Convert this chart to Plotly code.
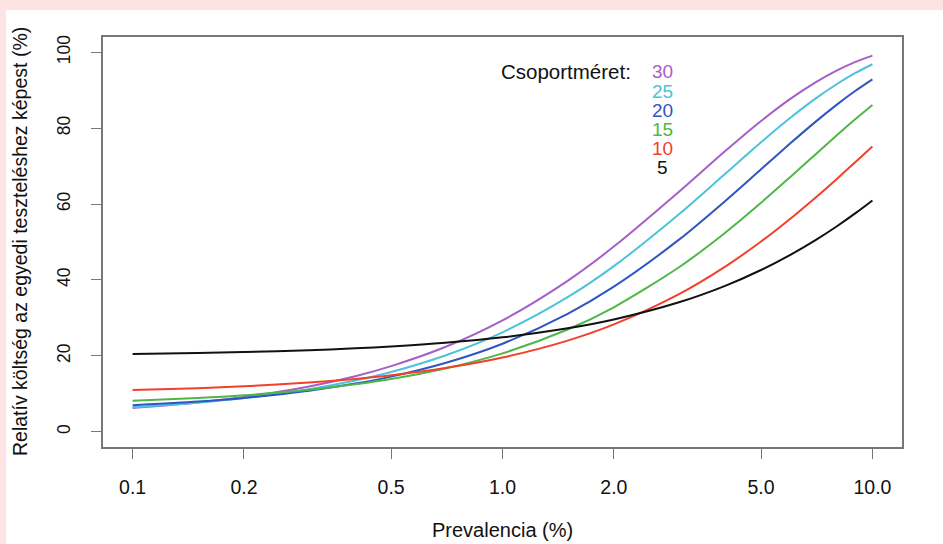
import plotly.graph_objects as go

# Prevalence (%) values at which curves were read
prevalence = [0.1, 0.15, 0.2, 0.3, 0.4, 0.5, 0.7, 1.0, 1.5, 2.0, 3.0, 4.0, 5.0, 6.0, 7.0, 8.0, 9.0, 10.0]

# Relative cost compared to individual testing (%) per group size
cost_5 = [20.5, 20.75, 21.0, 21.49, 21.98, 22.48, 23.45, 24.9, 27.28, 29.61, 34.13, 38.46, 42.62, 46.61, 50.43, 54.09, 57.6, 60.95]
cost_10 = [11.0, 11.49, 11.98, 12.96, 13.93, 14.89, 16.78, 19.56, 24.03, 28.29, 36.26, 43.52, 50.13, 56.14, 61.6, 66.56, 71.06, 75.13]
cost_15 = [8.16, 8.89, 9.62, 11.07, 12.5, 13.91, 16.68, 20.66, 26.94, 32.81, 43.34, 52.46, 60.34, 67.14, 73.0, 78.04, 82.37, 86.08]
cost_20 = [6.98, 7.96, 8.92, 10.83, 12.7, 14.54, 18.12, 23.21, 31.09, 38.24, 50.62, 60.8, 69.15, 75.99, 81.58, 86.13, 89.83, 92.84]
cost_25 = [6.47, 7.68, 8.88, 11.24, 13.53, 15.77, 20.11, 26.22, 35.47, 43.65, 57.3, 67.96, 76.26, 82.71, 87.71, 91.56, 94.54, 96.82]
cost_30 = [6.29, 7.73, 9.16, 11.95, 14.64, 17.3, 22.33, 29.36, 39.78, 48.79, 63.23, 73.95, 81.87, 87.7, 91.98, 95.13, 97.43, 99.09]

group_sizes = ["30", "25", "20", "15", "10", "5"]
series = [cost_30, cost_25, cost_20, cost_15, cost_10, cost_5]
colors = ["#a55fc6", "#4cc2dc", "#2f55c2", "#4db846", "#f2402b", "#111111"]

x_tickvals = [0.1, 0.2, 0.5, 1, 2, 5, 10]
x_ticktext = ["0.1", "0.2", "0.5", "1.0", "2.0", "5.0", "10.0"]
y_tickvals = [0, 20, 40, 60, 80, 100]

FONT = "Liberation Sans, Arial, sans-serif"

fig = go.Figure()
for name, vals, col in zip(group_sizes, series, colors):
    fig.add_trace(go.Scatter(x=prevalence, y=vals, mode="lines", name=name,
                             line=dict(color=col, width=2, shape="spline", smoothing=0.8),
                             showlegend=False))

# plot-area geometry in pixels
L, R, T, B = 103, 902, 37, 447
W, H = 943, 544
pw, ph = R - L, B - T
def px(x):
    return (x - L) / pw
def py(y):
    return (B - y) / ph

annotations = [
    dict(text="Csoportméret:", x=px(633), y=py(72), xanchor="right", yanchor="middle",
         showarrow=False, font=dict(size=20.5, color="#111111", family=FONT)),
    dict(text="Prevalencia (%)", x=0.5, y=py(530), xanchor="center", yanchor="middle",
         showarrow=False, font=dict(size=20, color="#111111", family=FONT)),
    dict(text="Relatív költség az egyedi teszteléshez képest (%)", x=px(20), y=0.5,
         xanchor="center", yanchor="middle", textangle=-90,
         showarrow=False, font=dict(size=19.5, color="#111111", family=FONT)),
]
for i, (name, col) in enumerate(zip(group_sizes, colors)):
    annotations.append(dict(text=name, x=px(662), y=py(72 + 19.2 * i), xanchor="center",
                            yanchor="middle", showarrow=False, height=19,
                            font=dict(size=19, color=col, family=FONT)))
for a in annotations:
    a["xref"] = "paper"
    a["yref"] = "paper"

fig.update_layout(
    width=W, height=H,
    margin=dict(l=L, r=W - R, t=T, b=H - B),
    paper_bgcolor="#fde3e3",
    plot_bgcolor="white",
    font=dict(family=FONT, size=19, color="#111111"),
    annotations=annotations,
    shapes=[dict(type="rect", xref="paper", yref="paper",
                 x0=px(6), x1=px(W + 5), y0=py(H + 5), y1=py(10),
                 fillcolor="white", line=dict(width=0), layer="below")],
)
fig.update_xaxes(type="log", range=[-1.08, 1.08], tickvals=x_tickvals, ticktext=x_ticktext,
                 ticks="outside", ticklen=10, tickwidth=1, tickcolor="#777777",
                 showline=True, linecolor="#777777", linewidth=1.5, mirror=True,
                 showgrid=False, zeroline=False, ticklabelstandoff=12,
                 tickfont=dict(size=19.5, family=FONT, color="#111111"))
fig.update_yaxes(range=[-4, 104], tickvals=y_tickvals,
                 ticks="outside", ticklen=10, tickwidth=1, tickcolor="#777777",
                 showline=True, linecolor="#777777", linewidth=1.5, mirror=True,
                 showgrid=False, zeroline=False, tickangle=-90, ticklabelstandoff=14,
                 tickfont=dict(size=17.5, family=FONT, color="#111111"))

fig.write_html("out.html", config={"displayModeBar": False},
               post_script="document.body.style.margin='0';document.body.style.padding='0';"
                           "document.body.style.overflow='hidden';")
